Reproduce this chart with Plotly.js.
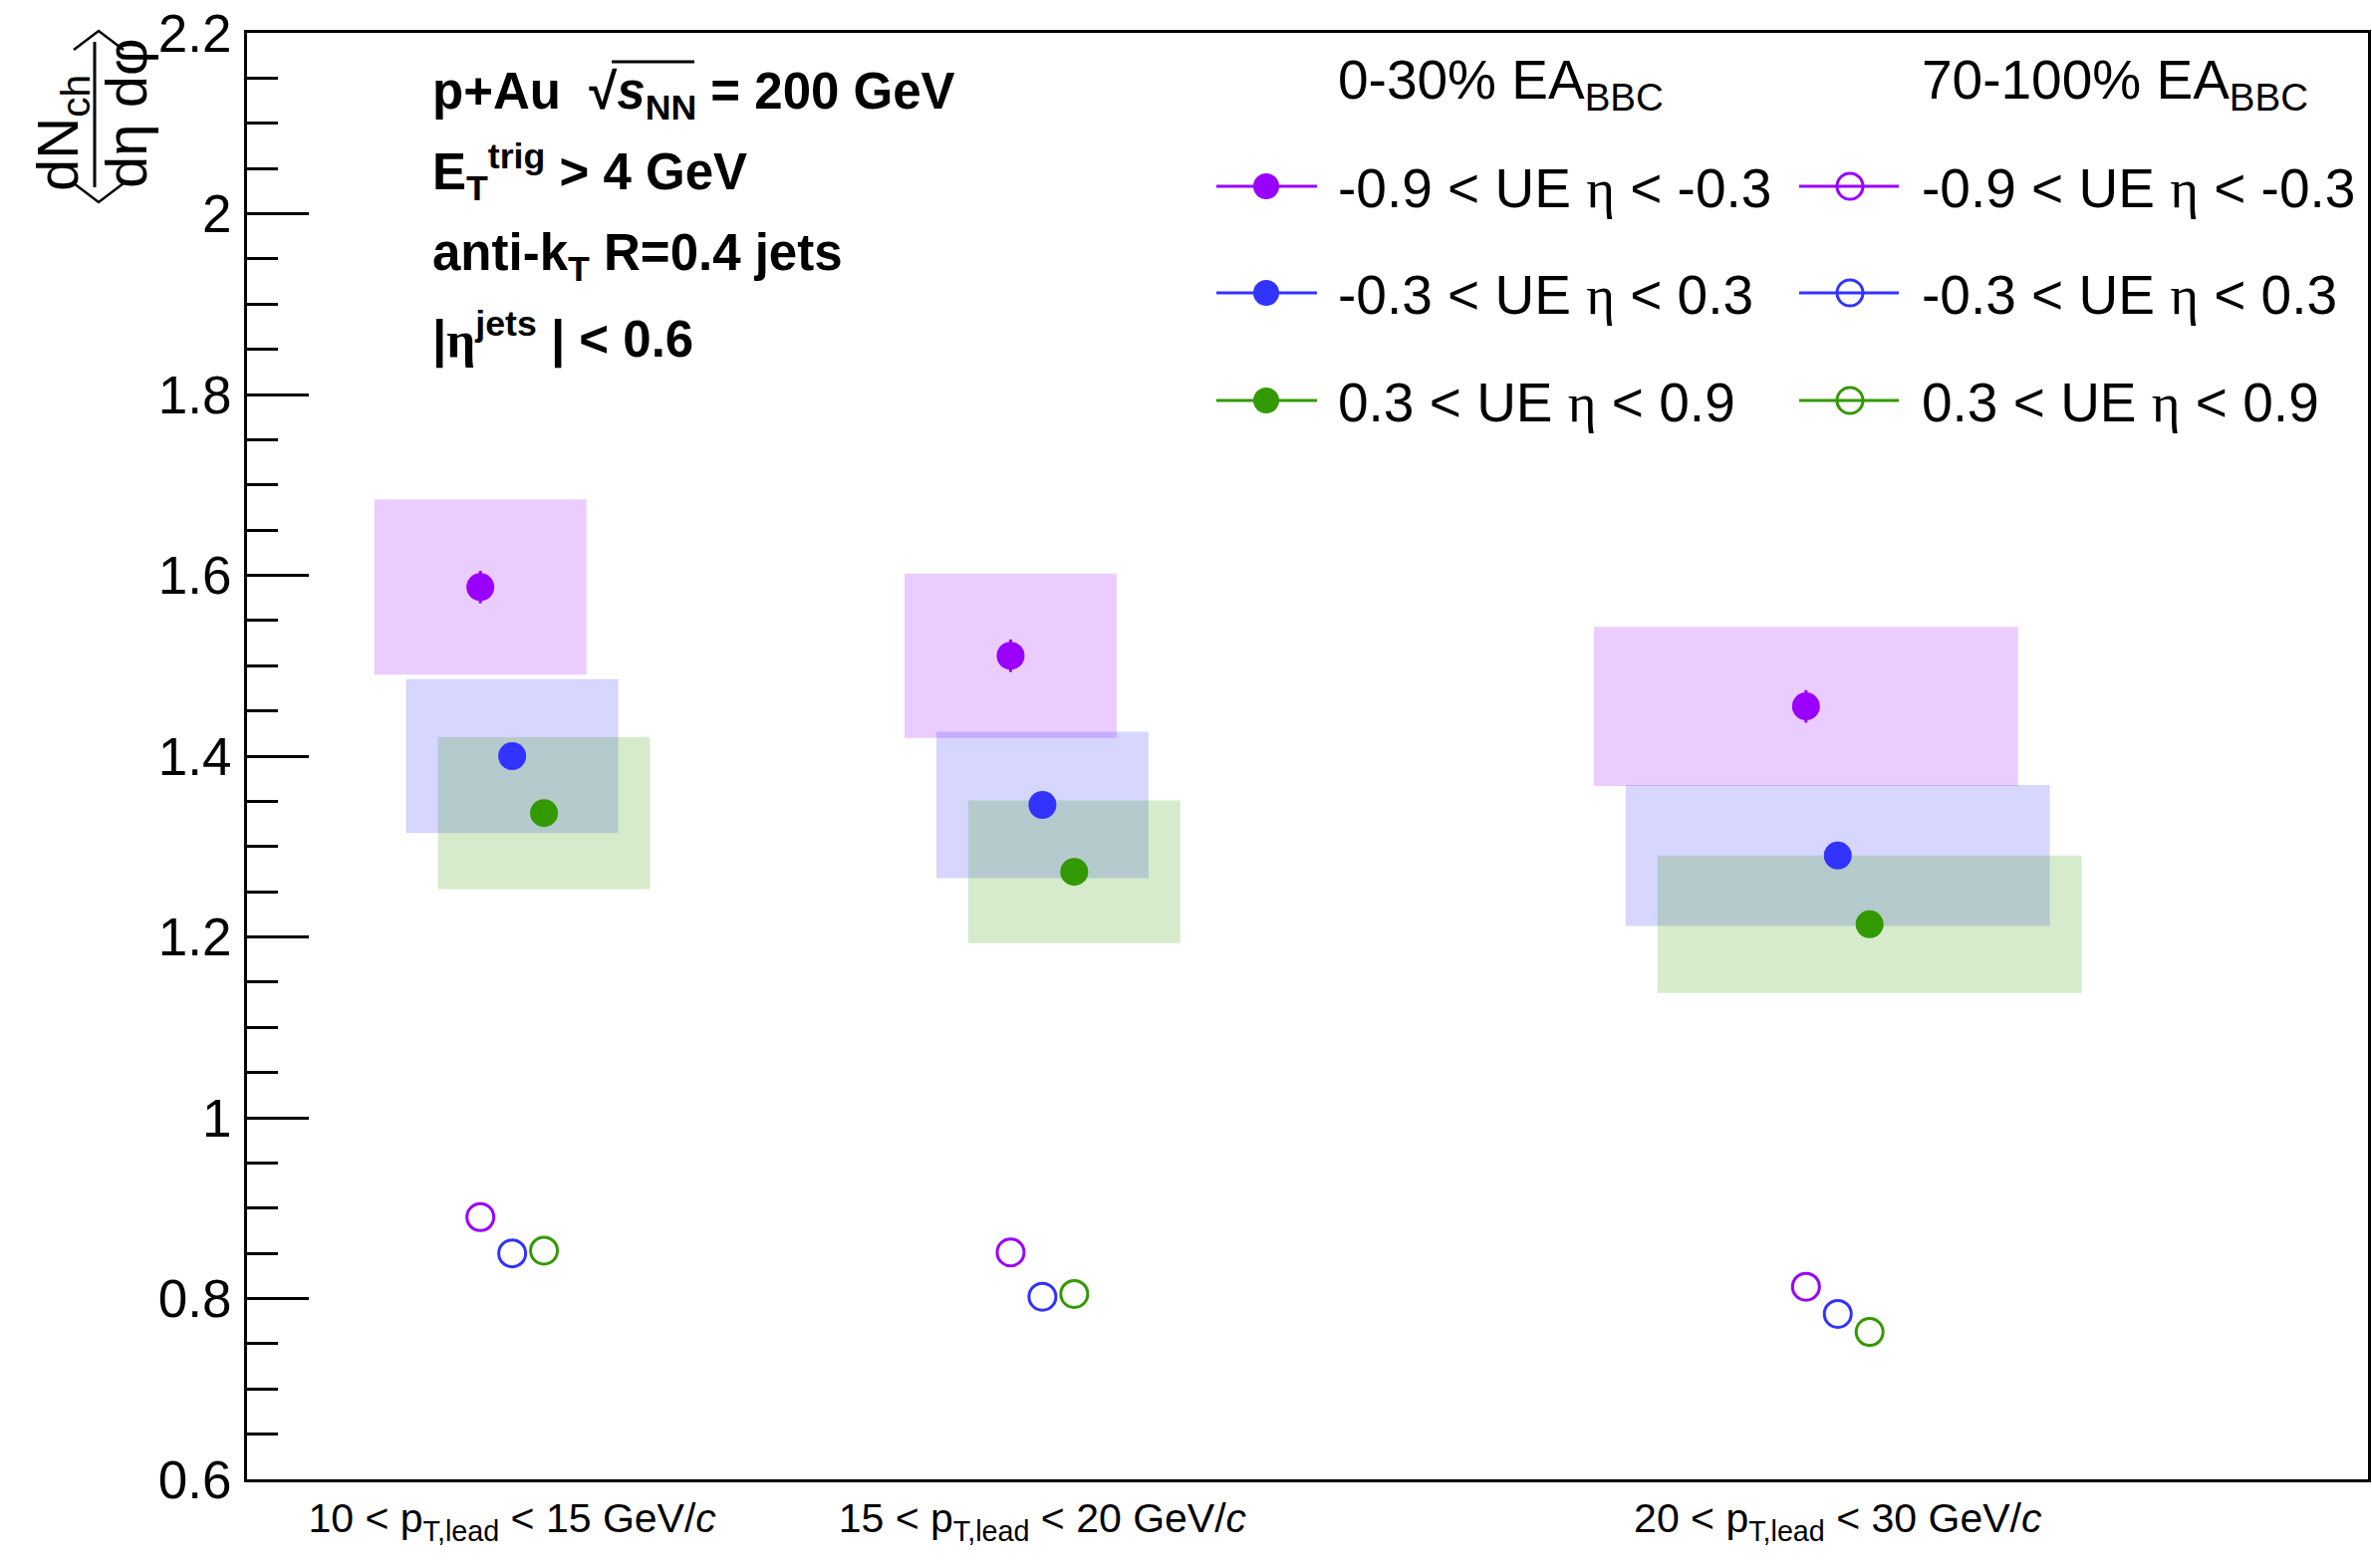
<!DOCTYPE html>
<html>
<head>
<meta charset="utf-8">
<script src="https://cdn.plot.ly/plotly-3.0.1.min.js"></script>
<style>html,body{margin:0;padding:0;background:#fff;}#chart{width:2381px;height:1574px;}</style>
</head>
<body>
<div id="chart"></div>
<script>
// ---------------- DATA ----------------
const groupLabels = [
  "10 < p<sub>T,lead</sub> < 15 GeV/<i>c</i>",
  "15 < p<sub>T,lead</sub> < 20 GeV/<i>c</i>",
  "20 < p<sub>T,lead</sub> < 30 GeV/<i>c</i>"
];
const binCenter = [12.5, 17.5, 25];
const sysBoxWidth = [2, 2, 4];

const ETA = "<span style=\"font-family:'Liberation Serif', serif\">η</span>";
const seriesNames = ["-0.9 < UE " + ETA + " < -0.3", "-0.3 < UE " + ETA + " < 0.3", "0.3 < UE " + ETA + " < 0.9"];

// 0-30% EA_BBC (high activity)
const hiEA_back = [1.587, 1.511, 1.455];
const hiEA_mid  = [1.400, 1.346, 1.290];
const hiEA_fwd  = [1.337, 1.272, 1.214];
const hiEA_back_stat = [0.018, 0.018, 0.018];
const hiEA_mid_stat  = [0.008, 0.008, 0.008];
const hiEA_fwd_stat  = [0.008, 0.008, 0.008];
const hiEA_back_sys = [0.097, 0.091, 0.088];
const hiEA_mid_sys  = [0.085, 0.081, 0.078];
const hiEA_fwd_sys  = [0.084, 0.079, 0.076];

// 70-100% EA_BBC (low activity)
const loEA_back = [0.890, 0.851, 0.813];
const loEA_mid  = [0.850, 0.802, 0.783];
const loEA_fwd  = [0.853, 0.805, 0.763];

// ---------------- STYLE ----------------
const colors = ["#9900ff", "#3333ff", "#339900"];
const boxColors = ["rgba(153,0,255,0.2)", "rgba(51,51,255,0.2)", "rgba(51,153,0,0.2)"];
const offsets = [-0.3, 0, 0.3];
const FONT = "Liberation Sans, Arial, Helvetica, sans-serif";

const hiVals = [hiEA_back, hiEA_mid, hiEA_fwd];
const hiStat = [hiEA_back_stat, hiEA_mid_stat, hiEA_fwd_stat];
const hiSys = [hiEA_back_sys, hiEA_mid_sys, hiEA_fwd_sys];
const loVals = [loEA_back, loEA_mid, loEA_fwd];

const traces = [];
// systematic boxes
for (let s = 0; s < 3; s++) {
  traces.push({
    type: "bar",
    x: binCenter.map(c => c + offsets[s]),
    base: hiVals[s].map((v, i) => v - hiSys[s][i]),
    y: hiSys[s].map(e => 2 * e),
    width: sysBoxWidth,
    marker: {color: boxColors[s], line: {width: 0}},
    hoverinfo: "skip",
    showlegend: false
  });
}
// filled points (0-30%)
for (let s = 0; s < 3; s++) {
  traces.push({
    type: "scatter", mode: "markers",
    x: binCenter.map(c => c + offsets[s]),
    y: hiVals[s],
    error_y: {type: "data", array: hiStat[s], width: 0, thickness: 3, color: colors[s]},
    marker: {symbol: "circle", size: 28, color: colors[s], line: {width: 0}},
    name: seriesNames[s], showlegend: false
  });
}
// open points (70-100%)
for (let s = 0; s < 3; s++) {
  traces.push({
    type: "scatter", mode: "markers",
    x: binCenter.map(c => c + offsets[s]),
    y: loVals[s],
    marker: {symbol: "circle-open", size: 27, color: colors[s], line: {width: 3, color: colors[s]}},
    name: seriesNames[s], showlegend: false
  });
}

// ---------------- LAYOUT helpers (pixel -> paper) ----------------
const L = 248, R = 2377, T = 33, B = 1485;
const pX = x => (x - L) / (R - L);
const pY = y => (B - y) / (B - T);

const annotations = [];
const shapes = [];

// legend
const rowsY = [187, 294, 402];
const cols = [{line: [1221, 1322], mk: 1271, tx: 1341, title: "0-30% EA<sub>BBC</sub>", filled: true},
              {line: [1806, 1906], mk: 1857, tx: 1927, title: "70-100% EA<sub>BBC</sub>", filled: false}];
cols.forEach(c => {
  annotations.push({xref: "paper", yref: "paper", x: pX(c.tx), y: pY(84), xanchor: "left", yanchor: "middle",
    text: c.title, showarrow: false, font: {family: FONT, size: 55, color: "#000"}});
  for (let s = 0; s < 3; s++) {
    shapes.push({type: "line", xref: "paper", yref: "paper", x0: pX(c.line[0]), x1: pX(c.line[1]),
      y0: pY(rowsY[s]), y1: pY(rowsY[s]), line: {color: colors[s], width: 3}});
    shapes.push({type: "circle", xref: "paper", yref: "paper", xsizemode: "pixel", ysizemode: "pixel",
      xanchor: pX(c.mk), yanchor: pY(rowsY[s]), x0: -13, x1: 13, y0: -13, y1: 13,
      fillcolor: c.filled ? colors[s] : "rgba(0,0,0,0)", line: {color: colors[s], width: c.filled ? 0 : 3}});
    annotations.push({xref: "paper", yref: "paper", x: pX(c.tx), y: pY(rowsY[s] + 2), xanchor: "left", yanchor: "middle",
      text: seriesNames[s], showarrow: false, font: {family: FONT, size: 55, color: "#000"}});
  }
});

// left text block (bold)
const infoFont = {family: FONT, size: 51, color: "#000"};
const info = [
  {y: 95, t: "<b>p+Au  √<i>s</i><sub>NN</sub> = 200 GeV</b>"},
  {y: 173, t: "<b>E<sub>T</sub><sup>trig</sup> > 4 GeV</b>"},
  {y: 257, t: "<b>anti-k<sub>T</sub> R=0.4 jets</b>"},
  {y: 337, t: "<b>|" + ETA + "<sup>jets</sup> | < 0.6</b>"}
];
info.forEach(o => annotations.push({xref: "paper", yref: "paper", x: pX(432), y: pY(o.y), xanchor: "left", yanchor: "middle",
  text: o.t, showarrow: false, font: infoFont}));
// overline of the square root
shapes.push({type: "line", xref: "paper", yref: "paper", x0: pX(614), x1: pX(697), y0: pY(62), y1: pY(62),
  line: {color: "#000", width: 3}});

// y-axis title built from pieces: < dN_ch / (dη dφ) >
const ytFont = {family: FONT, size: 58, color: "#000"};
annotations.push({xref: "paper", yref: "paper", x: pX(62), y: pY(134), xanchor: "center", yanchor: "middle",
  text: "dN<sub>ch</sub>", textangle: -90, showarrow: false, font: ytFont});
annotations.push({xref: "paper", yref: "paper", x: pX(127), y: pY(114), xanchor: "center", yanchor: "middle",
  text: "dη dφ", textangle: -90, showarrow: false, font: ytFont});
shapes.push({type: "line", xref: "paper", yref: "paper", x0: pX(95), x1: pX(95), y0: pY(42), y1: pY(188),
  line: {color: "#000", width: 3}});
// angle brackets
function pathPx(pts) { return "M" + pts.map(p => pX(p[0]) + "," + pY(p[1])).join(" L"); }
shapes.push({type: "path", xref: "paper", yref: "paper", path: pathPx([[74, 50], [99, 31], [124, 50]]),
  line: {color: "#000", width: 2.5}});
shapes.push({type: "path", xref: "paper", yref: "paper", path: pathPx([[74, 184], [99, 203], [124, 184]]),
  line: {color: "#000", width: 2.5}});

const layout = {
  width: 2381, height: 1574,
  margin: {l: L, r: 2381 - R, t: T, b: 1574 - B, pad: 0},
  paper_bgcolor: "#fff", plot_bgcolor: "#fff",
  showlegend: false,
  barmode: "overlay",
  font: {family: FONT, color: "#000"},
  xaxis: {
    range: [10, 30], showgrid: false, zeroline: false,
    showline: true, linewidth: 3, linecolor: "#000", mirror: true,
    tickmode: "array", tickvals: binCenter, ticktext: groupLabels,
    ticks: "", tickfont: {family: FONT, size: 41, color: "#000"},
    ticklabelstandoff: 1
  },
  yaxis: {
    range: [0.6, 2.2], showgrid: false, zeroline: false,
    showline: true, linewidth: 3, linecolor: "#000", mirror: true,
    tickmode: "linear", tick0: 0.6, dtick: 0.2,
    ticks: "inside", ticklen: 62, tickwidth: 3, tickcolor: "#000",
    minor: {dtick: 0.05, tick0: 0.6, ticks: "inside", ticklen: 31, tickwidth: 3, tickcolor: "#000", showgrid: false},
    tickfont: {family: FONT, size: 53, color: "#000"},
    ticklabelstandoff: 2
  },
  annotations: annotations,
  shapes: shapes
};

Plotly.newPlot("chart", traces, layout, {displayModeBar: false, staticPlot: true});
</script>
</body>
</html>
